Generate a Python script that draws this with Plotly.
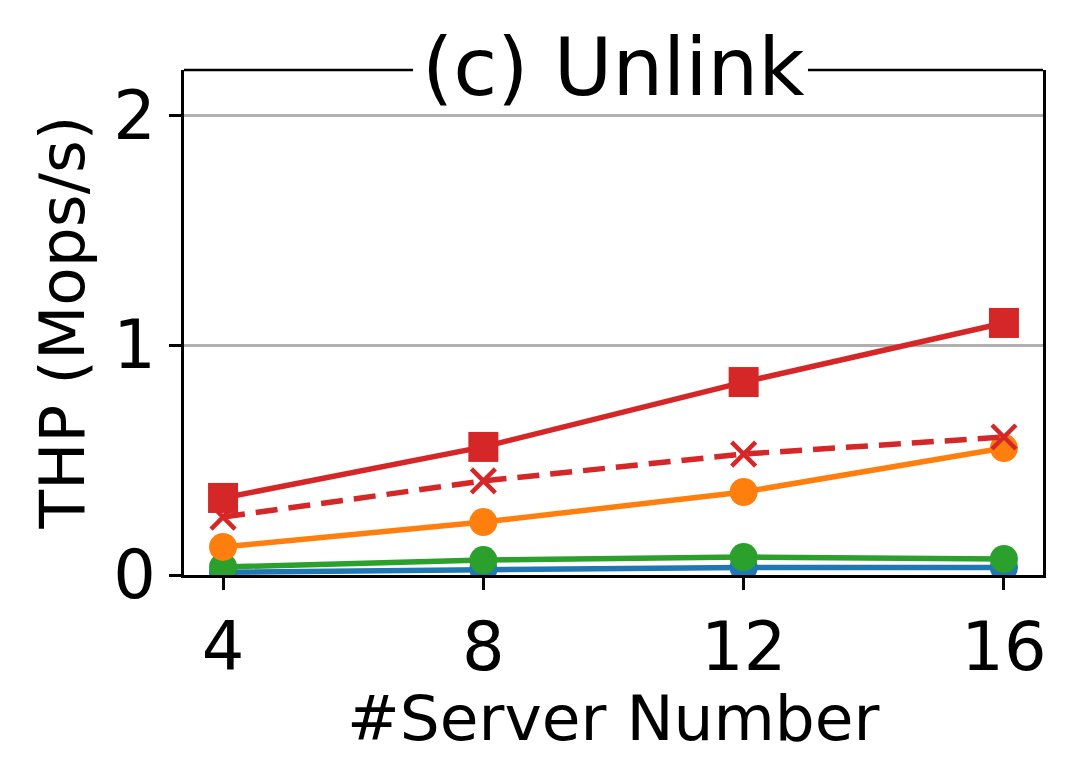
import plotly.graph_objects as go

# Data
servers = [4, 8, 12, 16]
thp_blue = [0.012, 0.025, 0.033, 0.033]
thp_green = [0.035, 0.065, 0.078, 0.07]
thp_orange = [0.122, 0.23, 0.361, 0.552]
thp_red_x = [0.252, 0.409, 0.526, 0.6]
thp_red_sq = [0.335, 0.557, 0.839, 1.096]

y_ticks = [0, 1, 2]

fig = go.Figure()

# Blue - circles (mostly hidden under green)
fig.add_trace(go.Scatter(x=servers, y=thp_blue, mode='lines+markers',
                         line=dict(color='#1f77b4', width=5.5),
                         marker=dict(symbol='circle', size=28, color='#1f77b4')))
# Green - circles
fig.add_trace(go.Scatter(x=servers, y=thp_green, mode='lines+markers',
                         line=dict(color='#2ca02c', width=5.5),
                         marker=dict(symbol='circle', size=28, color='#2ca02c')))
# Orange - circles
fig.add_trace(go.Scatter(x=servers, y=thp_orange, mode='lines+markers',
                         line=dict(color='#ff7f0e', width=5.5),
                         marker=dict(symbol='circle', size=28, color='#ff7f0e')))
# Red dashed - x markers
fig.add_trace(go.Scatter(x=servers, y=thp_red_x, mode='lines+markers',
                         line=dict(color='#d62728', width=5.5, dash='22px,11px'),
                         marker=dict(symbol='x-thin', size=24, color='#d62728',
                                     line=dict(color='#d62728', width=4.5))))
# Red solid - squares
fig.add_trace(go.Scatter(x=servers, y=thp_red_sq, mode='lines+markers',
                         line=dict(color='#d62728', width=5.5),
                         marker=dict(symbol='square', size=30, color='#d62728')))

# Top frame line, broken where the title sits
for x0, x1 in [(0, 0.2666), (0.7264, 1)]:
    fig.add_shape(type='line', xref='paper', yref='paper', x0=x0, x1=x1, y0=1, y1=1,
                  line=dict(color='black', width=2.5))

fig.add_annotation(text='(c) Unlink', xref='paper', yref='paper', x=0.5, y=1,
                   xanchor='center', yanchor='middle', showarrow=False, yshift=3,
                   font=dict(size=80, color='black'))

# axis titles as annotations so they can sit closer to the tick labels
fig.add_annotation(text='#Server Number', xref='paper', yref='paper', x=0.5, y=0,
                   xanchor='center', yanchor='middle', showarrow=False, yshift=-143,
                   font=dict(size=63, color='black'))
fig.add_annotation(text='THP (Mops/s)', xref='paper', yref='paper', x=0, y=0.5,
                   xanchor='center', yanchor='middle', showarrow=False, xshift=-122,
                   textangle=-90, font=dict(size=63, color='black'))

# page body adds an 8px offset, margins account for it
fig.update_layout(
    width=1080, height=784,
    margin=dict(l=176, r=45, t=62, b=217),
    paper_bgcolor='white', plot_bgcolor='white',
    showlegend=False,
    font=dict(family='DejaVu Sans', color='black'),
)
fig.update_xaxes(
    range=[3.4, 16.6], tickvals=servers, ticks='outside', ticklen=12, tickwidth=2.5,
    tickcolor='black', showline=True, linecolor='black', linewidth=2.5, mirror=False,
    showgrid=False, zeroline=False, tickfont=dict(size=67), automargin=False,
)
fig.update_yaxes(
    range=[0, 2.196], tickvals=y_ticks, ticks='outside', ticklen=12, tickwidth=2.5,
    tickcolor='black', showline=True, linecolor='black', linewidth=2.5, mirror=True,
    showgrid=True, gridcolor='#b0b0b0', gridwidth=2.5, zeroline=False,
    tickfont=dict(size=67), automargin=False,
)

fig.write_html("out.html")
